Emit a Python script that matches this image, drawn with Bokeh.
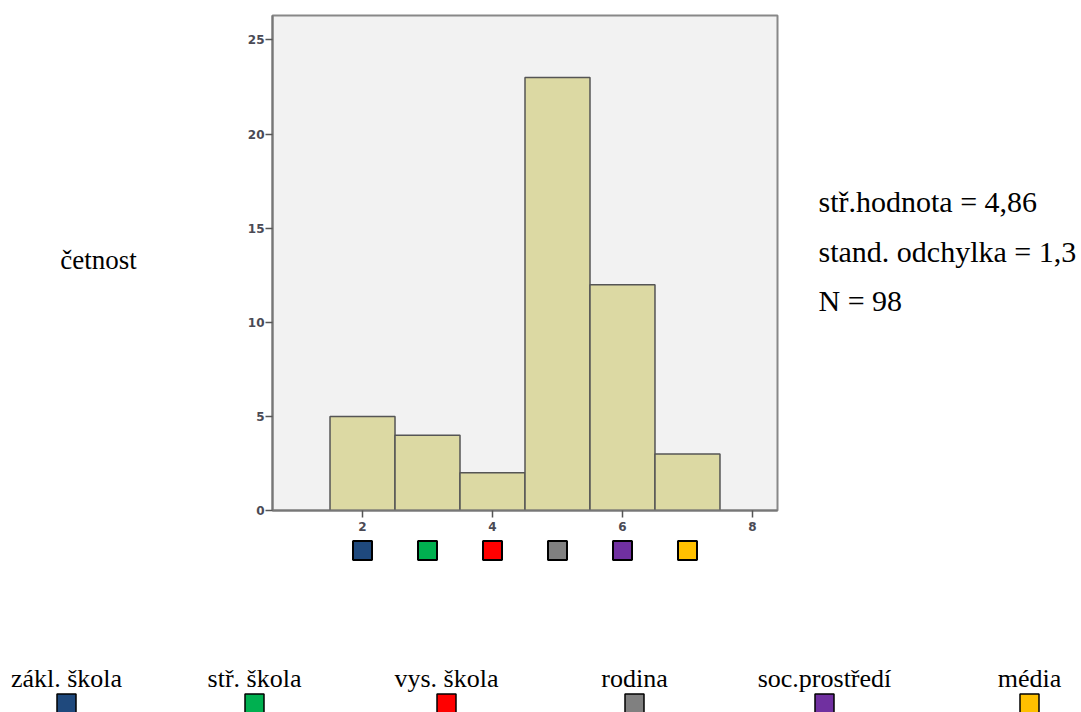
from bokeh.plotting import figure
from bokeh.layouts import column, row
from bokeh.models import Range1d, FixedTicker
from bokeh.embed import file_html
from bokeh.resources import INLINE

# ---- data ----
bin_centers = [2, 3, 4, 5, 6, 7]
counts = [5, 4, 2, 23, 12, 3]
y_ticks = [0, 5, 10, 15, 20, 25]
x_ticks = [2, 4, 6, 8]
categories = ["zákl. škola", "stř. škola", "vys. škola", "rodina", "soc.prostředí", "média"]
cat_colors = ["#1f497d", "#00b050", "#ff0000", "#808080", "#7030a0", "#ffc000"]
y_label = ["četnost"]
stats_lines = ["stř.hodnota = 4,86", "stand. odchylka = 1,3", "N = 98"]

# ---- layout positions (pixels) ----
legend_x = [66, 254, 446, 634, 824, 1029]
stats_y = [201, 251, 300]
FONT = "Liberation Serif"
LEFT_W = 232          # width of the left text panel
MAIN_BL, MAIN_BR = 40, 5
MAIN_W = MAIN_BL + 505 + MAIN_BR
RIGHT_W = 1081 - LEFT_W - MAIN_W
TOP_H = 535 + 30


def blank(w, h, xr, yr):
    f = figure(width=w, height=h, x_range=xr, y_range=yr, output_backend="svg",
               toolbar_location=None, min_border_left=0, min_border_right=0,
               min_border_top=0, min_border_bottom=0)
    f.frame_align = False
    f.axis.visible = False
    f.grid.visible = False
    f.outline_line_color = None
    return f


x_range = Range1d(0.615, 8.385)

p = figure(width=MAIN_W, height=535, x_range=x_range, y_range=Range1d(0, 26.3),
           output_backend="svg", toolbar_location=None,
           min_border_left=MAIN_BL, min_border_right=MAIN_BR, min_border_top=15,
           min_border_bottom=25)
p.background_fill_color = "#f2f2f2"
p.border_fill_color = "white"
p.outline_line_color = "#888888"
p.outline_line_width = 2
p.grid.visible = False

p.vbar(x=bin_centers, top=counts, bottom=0, width=1.0,
       fill_color="#dcd9a3", line_color="#555555", line_width=1.5)

for ax in (p.xaxis[0], p.yaxis[0]):
    ax.axis_line_color = "#777777"
    ax.axis_line_width = 2
    ax.major_tick_line_color = "#555555"
    ax.major_tick_line_width = 1.5
    ax.major_tick_out = 7
    ax.major_tick_in = 0
    ax.minor_tick_line_color = None
    ax.major_label_text_font = "DejaVu Sans"
    ax.major_label_text_font_size = "12px"
    ax.major_label_text_font_style = "bold"
    ax.major_label_text_color = "#4a4a55"
p.yaxis.ticker = FixedTicker(ticks=y_ticks)
p.xaxis.ticker = FixedTicker(ticks=x_ticks)
p.yaxis.major_label_standoff = 1
p.xaxis.major_label_standoff = 4

# ---- coloured squares under the axis ----
p2 = figure(width=MAIN_W, height=30, x_range=x_range, y_range=Range1d(0, 1),
            output_backend="svg", toolbar_location=None,
            min_border_left=MAIN_BL, min_border_right=MAIN_BR, min_border_top=0,
            min_border_bottom=0)
p2.axis.visible = False
p2.grid.visible = False
p2.outline_line_color = None
p2.scatter(x=bin_centers, y=[0.5] * 6, marker="square", size=19,
           fill_color=cat_colors, line_color="black", line_width=2)

# ---- left text panel ----
pl = blank(LEFT_W, TOP_H, Range1d(0, LEFT_W), Range1d(TOP_H, 0))
pl.text(x=[98], y=[259], text=y_label, text_font={"value": FONT}, text_font_size="27px",
        text_align="center", text_baseline="middle", text_color="black")

# ---- right stats panel ----
x0 = LEFT_W + MAIN_W
pr = blank(RIGHT_W, TOP_H, Range1d(x0, 1081), Range1d(TOP_H, 0))
pr.text(x=[818] * 3, y=stats_y, text=stats_lines, text_font={"value": FONT},
        text_font_size="30px", text_align="left", text_baseline="middle", text_color="black")

# ---- bottom legend ----
p3 = blank(1081, 712 - TOP_H, Range1d(0, 1081), Range1d(712, TOP_H))
p3.text(x=legend_x, y=[678] * 6, text=categories, text_font={"value": FONT},
        text_font_size="26px", text_align="center", text_baseline="alphabetic",
        text_color="black")
p3.scatter(x=legend_x, y=[703] * 6, marker="square", size=19,
           fill_color=cat_colors, line_color="black", line_width=1.5)

layout = column(row(pl, column(p, p2, spacing=0), pr, spacing=0), p3, spacing=0)
open("out.html", "w").write(file_html(layout, INLINE))
